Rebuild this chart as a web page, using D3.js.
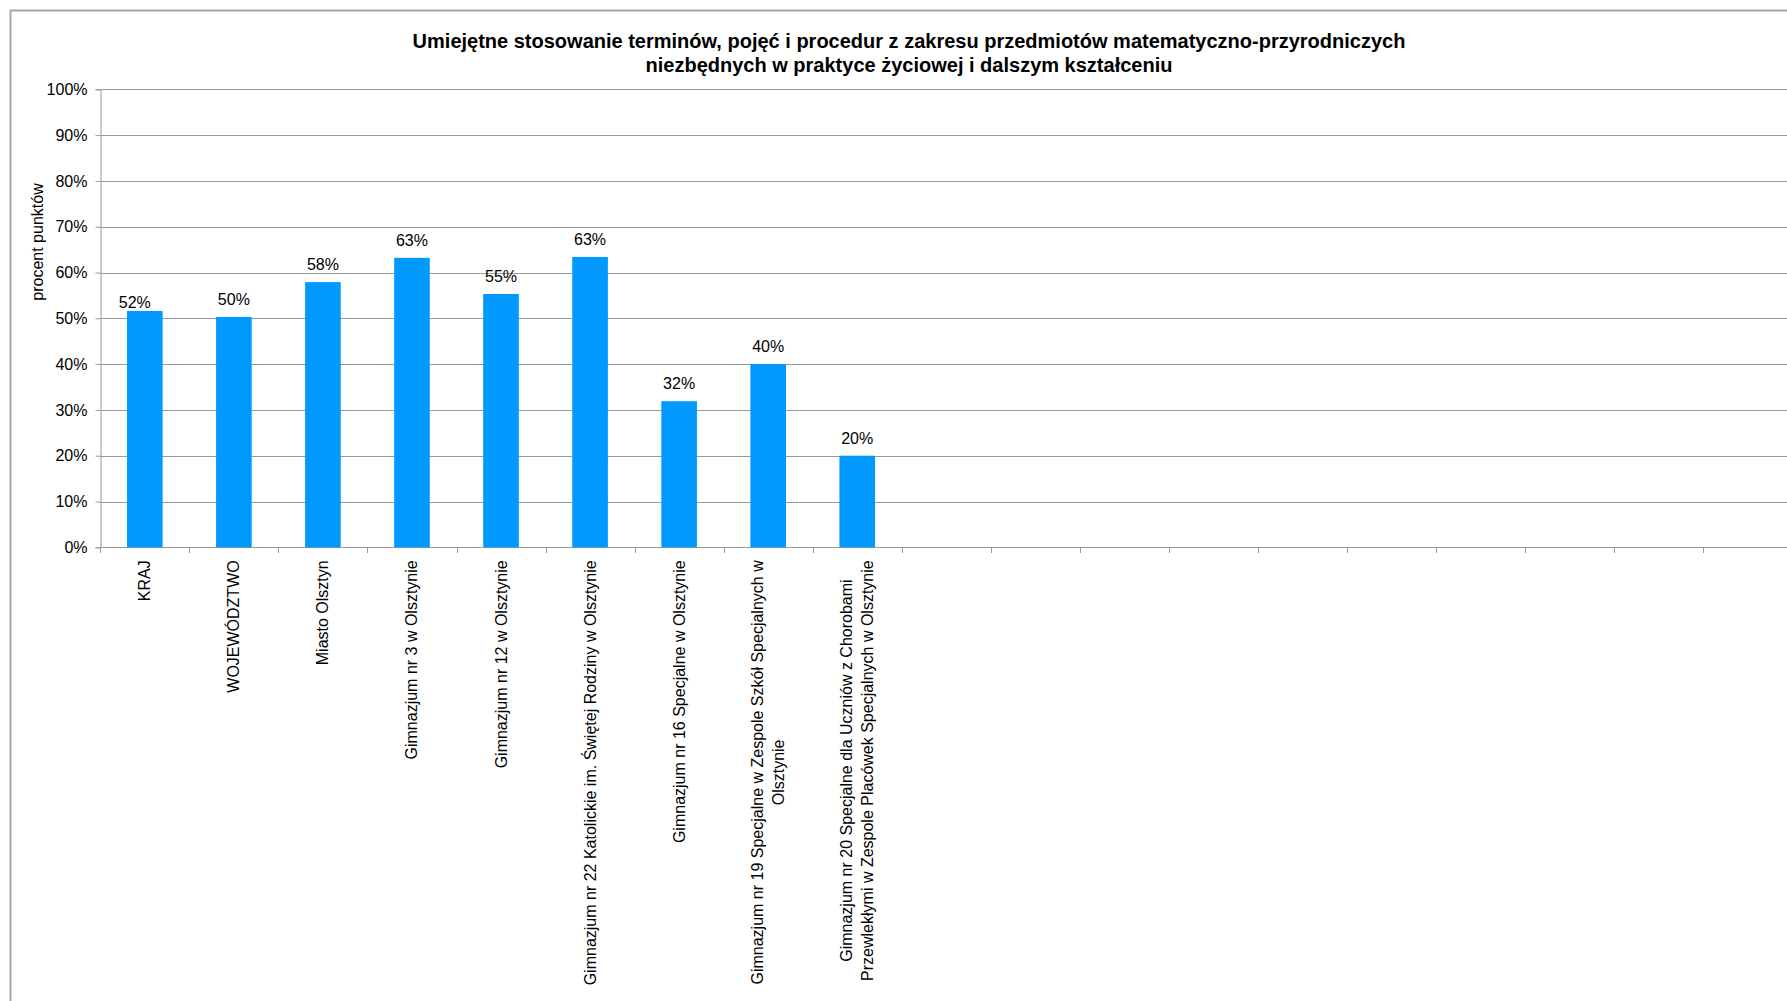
<!DOCTYPE html>
<html>
<head>
<meta charset="utf-8">
<script src="https://cdn.jsdelivr.net/npm/d3@7"></script>
<style>
  html, body { margin: 0; padding: 0; background: #fff; overflow: hidden; }
  svg { display: block; font-family: "Liberation Sans", Arial, sans-serif; }
</style>
</head>
<body>
<svg id="chart" width="1787" height="1001"></svg>
<script>
// ---- data ----
const titleLines = [
  "Umiejętne stosowanie terminów, pojęć i procedur z zakresu przedmiotów matematyczno-przyrodniczych",
  "niezbędnych w praktyce życiowej i dalszym kształceniu"
];
const yAxisTitle = "procent punktów";
const categories = [
  ["KRAJ"],
  ["WOJEWÓDZTWO"],
  ["Miasto Olsztyn"],
  ["Gimnazjum nr 3 w Olsztynie"],
  ["Gimnazjum nr 12 w Olsztynie"],
  ["Gimnazjum nr 22 Katolickie im. Świętej Rodziny w Olsztynie"],
  ["Gimnazjum nr 16 Specjalne w Olsztynie"],
  ["Gimnazjum nr 19 Specjalne w Zespole Szkół Specjalnych w", "Olsztynie"],
  ["Gimnazjum nr 20 Specjalne dla Uczniów z Chorobami", "Przewlekłymi w Zespole Placówek Specjalnych w Olsztynie"]
];
const values = [0.516, 0.503, 0.579, 0.632, 0.553, 0.634, 0.319, 0.400, 0.200];
const emptySlots = 11; // empty category slots continuing to the right
const yTicks = [0, 0.1, 0.2, 0.3, 0.4, 0.5, 0.6, 0.7, 0.8, 0.9, 1.0];

// ---- layout ----
const svg = d3.select("#chart");
const W = 1787, H = 1001;
const plotLeft = 100.3, plotBottom = 547.3, plotTop = 89.3;
const step = 89.05;
const nSlots = categories.length + emptySlots;
const slotIds = d3.range(nSlots);

const x = d3.scaleBand()
  .domain(slotIds)
  .range([plotLeft, plotLeft + nSlots * step])
  .paddingInner(0.6)
  .paddingOuter(0.3);

const y = d3.scaleLinear().domain([0, 1]).range([plotBottom, plotTop]);

const gridColor = "#999";
const barColor = "#0099ff";

// outer border (chart area frame, continues past the visible edge)
svg.append("rect")
  .attr("x", 10.5).attr("y", 10.5)
  .attr("width", W + 20).attr("height", H + 20)
  .attr("fill", "none").attr("stroke", "#a6a6a6").attr("stroke-width", 2);

// gridlines
svg.append("g").selectAll("line")
  .data(yTicks.filter(d => d > 0))
  .join("line")
  .attr("x1", plotLeft).attr("x2", W + 10)
  .attr("y1", d => Math.round(y(d)) + 0.5).attr("y2", d => Math.round(y(d)) + 0.5)
  .attr("stroke", gridColor).attr("stroke-width", 1);

// y axis
const yAxis = d3.axisLeft(y)
  .tickValues(yTicks)
  .tickSize(5)
  .tickPadding(8)
  .tickFormat(d3.format(".0%"));
const gy = svg.append("g")
  .attr("transform", `translate(${Math.round(plotLeft) + 0.5},0)`)
  .call(yAxis);
gy.select(".domain").attr("stroke", gridColor);
gy.selectAll(".tick line").attr("stroke", gridColor);
gy.selectAll(".tick text")
  .attr("font-size", 16).attr("fill", "#000")
  .attr("font-family", "'Liberation Sans', Arial, sans-serif");

// x axis baseline + ticks at category boundaries
svg.append("line")
  .attr("x1", plotLeft).attr("x2", W + 10)
  .attr("y1", Math.round(plotBottom) + 0.5).attr("y2", Math.round(plotBottom) + 0.5)
  .attr("stroke", gridColor);
svg.append("g").selectAll("line")
  .data(d3.range(nSlots + 1))
  .join("line")
  .attr("x1", i => Math.round(x(0) - x.step() * x.paddingOuter() + i * x.step()) + 0.5)
  .attr("x2", i => Math.round(x(0) - x.step() * x.paddingOuter() + i * x.step()) + 0.5)
  .attr("y1", Math.round(plotBottom)).attr("y2", Math.round(plotBottom) + 6)
  .attr("stroke", gridColor);

// bars
svg.append("g").selectAll("rect")
  .data(values)
  .join("rect")
  .attr("x", (d, i) => x(i))
  .attr("width", x.bandwidth())
  .attr("y", d => y(d))
  .attr("height", d => y(0) - y(d))
  .attr("fill", barColor);

// data labels (the first one was nudged by hand in the original)
svg.append("g").selectAll("text")
  .data(values)
  .join("text")
  .attr("x", (d, i) => x(i) + x.bandwidth() / 2 - (i === 0 ? 10 : 0))
  .attr("y", (d, i) => y(d) - (i === 0 ? 3 : 12))
  .attr("text-anchor", "middle")
  .attr("font-size", 16)
  .attr("fill", "#000")
  .text(d => d3.format(".0%")(d));

// category labels (rotated, multi-line centered, block end aligned to axis)
const lineH = 20.5;
categories.forEach((lines, i) => {
  const cx = x(i) + x.bandwidth() / 2;
  const g = svg.append("g")
    .attr("transform", `translate(${cx},${plotBottom + 13}) rotate(-90)`);
  const texts = lines.map((ln, k) => g.append("text")
    .attr("y", (k - (lines.length - 1) / 2) * lineH)
    .attr("dominant-baseline", "central")
    .attr("text-anchor", "middle")
    .attr("font-size", 16)
    .attr("fill", "#000")
    .text(ln));
  const maxLen = d3.max(texts, t => t.node().getComputedTextLength());
  texts.forEach(t => t.attr("x", -maxLen / 2));
});

// y axis title
svg.append("text")
  .attr("transform", "translate(37,242) rotate(-90)")
  .attr("text-anchor", "middle")
  .attr("dominant-baseline", "central")
  .attr("font-size", 16)
  .attr("fill", "#000")
  .text(yAxisTitle);

// title
svg.append("g").selectAll("text")
  .data(titleLines)
  .join("text")
  .attr("x", 909)
  .attr("y", (d, i) => 47.5 + i * 24)
  .attr("text-anchor", "middle")
  .attr("font-size", 20)
  .attr("font-weight", "bold")
  .attr("fill", "#000")
  .text(d => d);
</script>
</body>
</html>
